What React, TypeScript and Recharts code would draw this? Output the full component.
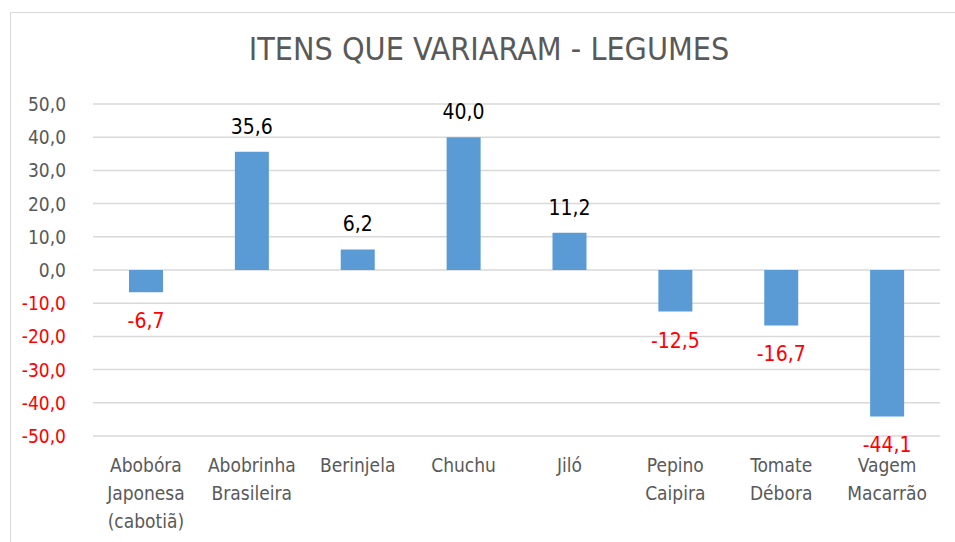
import React from "react";
import { BarChart, Bar, XAxis, YAxis, CartesianGrid, LabelList } from "recharts";

const categories = [
  "Abobóra\nJaponesa\n(cabotiã)",
  "Abobrinha\nBrasileira",
  "Berinjela",
  "Chuchu",
  "Jiló",
  "Pepino\nCaipira",
  "Tomate\nDébora",
  "Vagem\nMacarrão",
];
const variation = [-6.7, 35.6, 6.2, 40.0, 11.2, -12.5, -16.7, -44.1];
const yTicks = [-50, -40, -30, -20, -10, 0, 10, 20, 30, 40, 50];

const data = categories.map((name, i) => ({ name, value: variation[i] }));

const FONT = "'Liberation Sans Narrow', 'DejaVu Sans Condensed', 'Liberation Sans', sans-serif";
const fmt = (v: number) => v.toFixed(1).replace(".", ",");

const YTick = (props: any) => {
  const { x, y, payload } = props;
  const v = payload.value as number;
  return (
    <text x={x} y={y} dy={7} textAnchor="end" fontSize={19} fontFamily={FONT} fill={v < 0 ? "#ff0000" : "#595959"}>
      {fmt(v)}
    </text>
  );
};

const XTick = (props: any) => {
  const { x, y, payload } = props;
  const lines = String(payload.value).split("\n");
  return (
    <text x={x} y={y} textAnchor="middle" fontSize={19} fontFamily={FONT} fill="#595959">
      {lines.map((l, i) => (
        <tspan key={i} x={x} dy={i === 0 ? 28 : 28}>
          {l}
        </tspan>
      ))}
    </text>
  );
};

const ValueLabel = (props: any) => {
  const { x, y, width, height, value } = props;
  const cx = x + width / 2;
  const top = Math.min(y, y + height);
  const bottom = Math.max(y, y + height);
  if (value >= 0) {
    return (
      <text x={cx} y={top - 18} textAnchor="middle" fontSize={21} fontFamily={FONT} fill="#000000">
        {fmt(value)}
      </text>
    );
  }
  return (
    <text x={cx} y={bottom + 36} textAnchor="middle" fontSize={21} fontFamily={FONT} fill="#ff0000">
      {fmt(value)}
    </text>
  );
};

export default function App() {
  return (
    <div style={{ position: "absolute", left: 0, top: 0, width: 955, height: 542, background: "#fff", overflow: "hidden" }}>
      <div
        style={{
          position: "absolute",
          left: 10,
          top: 12,
          width: 960,
          height: 560,
          border: "1.5px solid #d9d9d9",
        }}
      />
      <div
        style={{
          position: "absolute",
          left: 0,
          top: 30,
          width: 978,
          textAlign: "center",
          fontFamily: FONT,
          fontSize: 32,
          color: "#595959",
        }}
      >
        ITENS QUE VARIARAM - LEGUMES
      </div>
      <div style={{ position: "absolute", left: 0, top: 0 }}>
        <BarChart width={955} height={542} data={data} margin={{ top: 104, right: 15, bottom: 0, left: 0 }} barCategoryGap="34%">
          <CartesianGrid vertical={false} stroke="#d9d9d9" strokeWidth={1.5} />
          <XAxis dataKey="name" axisLine={false} tickLine={false} interval={0} tick={<XTick />} height={106} />
          <YAxis
            domain={[-50, 50]}
            ticks={yTicks}
            interval={0}
            width={93}
            axisLine={false}
            tickLine={false}
            tickSize={0}
            tickMargin={27}
            tick={<YTick />}
          />
          <Bar dataKey="value" fill="#5b9bd5" isAnimationActive={false}>
            <LabelList dataKey="value" content={<ValueLabel />} />
          </Bar>
        </BarChart>
      </div>
    </div>
  );
}
